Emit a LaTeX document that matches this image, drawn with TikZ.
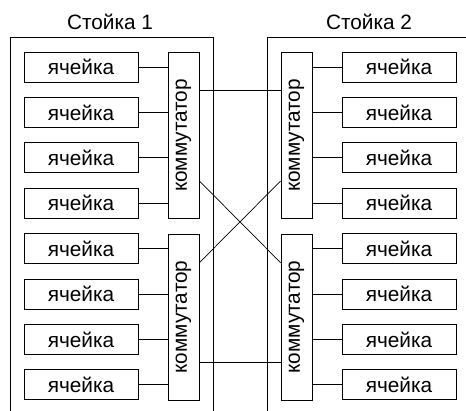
\documentclass[tikz,border=0pt]{standalone}
\usepackage{fontspec}
\setmainfont{Liberation Sans}
\begin{document}
\begin{tikzpicture}[x=1pt,y=-1pt,
  line width=0.8pt,
  label font/.style={font=\fontsize{20.8}{22}\selectfont},
  cell/.style={draw, label font, minimum width=114pt, minimum height=30pt, inner sep=0pt},
  switchbox/.style={draw, label font, minimum width=31pt, minimum height=166pt, inner sep=0pt},
  rack title/.style={label font, inner sep=0pt},
  link/.style={line width=0.7pt}]
\useasboundingbox (0,0) rectangle (466,411);
\fill[white] (0,0) rectangle (466,411);

% racks (open at the bottom)
\draw (10,411) -- (10,37) -- (213,37) -- (213,411);
\draw (466,37) -- (267,37) -- (267,411);
\node[rack title] (t1) at (110,22) {Стойка 1};
\node[rack title] (t2) at (369,22) {Стойка 2};

% switches
\node[switchbox] (sL1) at (183.5,135.5) {\rotatebox{90}{коммутатор}};
\node[switchbox] (sL2) at (183.5,317) {\rotatebox{90}{коммутатор}};
\node[switchbox] (sR1) at (296.5,135.5) {\rotatebox{90}{коммутатор}};
\node[switchbox] (sR2) at (296.5,317) {\rotatebox{90}{коммутатор}};

% cells and their uplinks
\foreach \i in {0,...,7} {
  \pgfmathsetmacro{\cy}{67+45.4*\i}
  \node[cell] (cL\i) at (81,\cy) {ячейка};
  \node[cell] (cR\i) at (399,\cy) {ячейка};
}
\foreach \i in {0,...,3} {
  \draw[link] (cL\i.east) -- (cL\i.east -| sL1.west);
  \draw[link] (cR\i.west) -- (cR\i.west -| sR1.east);
}
\foreach \i in {4,...,7} {
  \draw[link] (cL\i.east) -- (cL\i.east -| sL2.west);
  \draw[link] (cR\i.west) -- (cR\i.west -| sR2.east);
}

% inter-rack links
\draw[link] ([yshift=44.8pt]sL1.east) -- ([yshift=44.8pt]sR1.west);
\draw[link] ([yshift=-45.5pt]sL1.east) -- ([yshift=54.3pt]sR2.west);
\draw[link] ([yshift=54.3pt]sL2.east) -- ([yshift=-45.5pt]sR1.west);
\draw[link] ([yshift=-45.7pt]sL2.east) -- ([yshift=-45.7pt]sR2.west);
\end{tikzpicture}
\end{document}
